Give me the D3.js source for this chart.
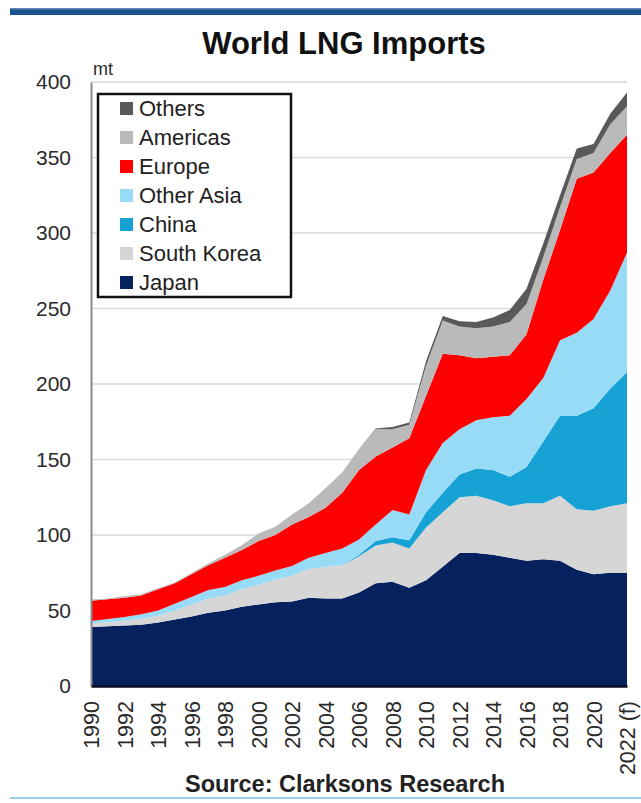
<!DOCTYPE html>
<html>
<head>
<meta charset="utf-8">
<script src="https://cdn.jsdelivr.net/npm/d3@7"></script>
<style>
  html, body { margin: 0; padding: 0; background: #ffffff; }
  svg { display: block; font-family: "Liberation Sans", Arial, sans-serif; }
</style>
</head>
<body>
<svg id="chart" width="641" height="803"></svg>
<script>
// World LNG imports by region, million tonnes
const years = d3.range(1990, 2023);

const japan      = [39, 39.5, 40, 40.5, 42, 44, 46, 48.5, 50, 52.5, 54, 55.5, 56, 58.5, 58, 58, 62, 68, 69, 65, 70, 79, 88, 88, 87, 85, 83, 84, 83, 77, 74, 75, 75];
const southKorea = [2.5, 2.8, 3.2, 4, 4.5, 6, 8, 9.5, 10, 11.5, 13, 15, 17, 19, 21, 22, 24, 25, 26, 26, 35, 36, 37, 38, 36, 34, 38, 37, 43, 40, 42, 44, 46];
const china      = [0, 0, 0, 0, 0, 0, 0, 0, 0, 0, 0, 0, 0, 0, 0, 0, 1, 3, 3.5, 5.5, 10, 13, 15, 18, 20, 19.5, 24, 41, 53, 62, 68, 78, 87];
const otherAsia  = [1.5, 2, 2.5, 3, 3.5, 4.5, 5, 5.5, 5.5, 6, 6, 6, 6.5, 7.5, 9, 11, 10, 11, 18, 17, 28, 33, 30, 32, 35, 40.5, 45, 42, 50, 55, 59, 65, 79];
const europe     = [13.5, 13.2, 12.8, 12.5, 14, 13.5, 15, 16.5, 19.5, 20, 23, 23.5, 27.5, 27, 30, 37, 46, 45, 41.5, 50.5, 49, 59, 49, 41, 40, 40, 43, 65, 73, 102, 97, 91, 78];
const americas   = [0.8, 0.5, 1, 0.7, 0.8, 0.5, 0.8, 1.2, 2, 3.2, 5, 5.5, 6.5, 9, 13, 13.5, 14, 18, 12, 9, 20, 22, 19, 20, 20, 22, 20, 15, 15, 13, 13, 19, 19];
const others     = [0, 0, 0, 0, 0, 0, 0, 0, 0, 0, 0, 0, 0, 0, 0, 0, 0, 0.5, 1.5, 1.5, 3, 3, 3.5, 4, 6, 8, 10, 9, 8, 7, 6, 7, 9];

const seriesNames  = ["Japan", "South Korea", "China", "Other Asia", "Europe", "Americas", "Others"];
const seriesValues = [japan, southKorea, china, otherAsia, europe, americas, others];
const seriesColors = ["#05225f", "#d6d6d6", "#17a2d6", "#97dbf6", "#ff0000", "#bababa", "#595959"];

const yTickValues = [0, 50, 100, 150, 200, 250, 300, 350, 400];
const xTickYears  = d3.range(1990, 2023, 2);
const xTickLabels = xTickYears.map(y => y === 2022 ? "2022 (f)" : String(y));

const titleText  = "World LNG Imports";
const unitText   = "mt";
const sourceText = "Source: Clarksons Research";

// Rows for the stack layout
const rows = years.map((yr, i) => {
  const r = { year: yr };
  seriesNames.forEach((n, k) => { r[n] = seriesValues[k][i]; });
  return r;
});

const svg = d3.select("#chart");

const x = d3.scaleLinear().domain([1990, 2022]).range([91, 627]);
const y = d3.scaleLinear().domain([0, 400]).range([686, 82]);
const color = d3.scaleOrdinal().domain(seriesNames).range(seriesColors);

// Header rule
svg.append("rect").attr("x", 10).attr("y", 8).attr("width", 631).attr("height", 7).attr("fill", "#1c4f8d");
svg.append("rect").attr("x", 10).attr("y", 8).attr("width", 631).attr("height", 1.5).attr("fill", "#5f86b5");

// Title
svg.append("text")
  .attr("x", 344).attr("y", 54)
  .attr("text-anchor", "middle")
  .attr("font-size", 31).attr("font-weight", "bold").attr("fill", "#111")
  .text(titleText);

// Horizontal gridlines
svg.append("g")
  .selectAll("line")
  .data(yTickValues.filter(v => v > 0))
  .join("line")
  .attr("x1", x(1990)).attr("x2", x(2022))
  .attr("y1", d => y(d)).attr("y2", d => y(d))
  .attr("stroke", "#d9d9d9").attr("stroke-width", 1.5);

// Stacked areas
const stack = d3.stack().keys(seriesNames);
const layers = stack(rows);

const area = d3.area()
  .x(d => x(d.data.year))
  .y0(d => y(d[0]))
  .y1(d => y(d[1]));

svg.append("g")
  .selectAll("path")
  .data(layers)
  .join("path")
  .attr("d", area)
  .attr("fill", d => color(d.key));

// Axes
const yAxis = d3.axisLeft(y).tickValues(yTickValues).tickSize(0).tickPadding(20);
const gy = svg.append("g").attr("transform", `translate(${x(1990)},0)`).call(yAxis);
gy.select(".domain").attr("stroke", "#8a8a8a").attr("stroke-width", 2);
gy.selectAll("text").attr("font-size", 21).attr("fill", "#2a2a2a")
  .attr("font-family", "'Liberation Sans', Arial, sans-serif");

const xAxis = d3.axisBottom(x).tickValues(xTickYears).tickSize(0)
  .tickFormat((d, i) => xTickLabels[i]);
const gx = svg.append("g").attr("transform", `translate(0,${y(0)})`).call(xAxis);
gx.select(".domain").attr("stroke", "#0a0f24").attr("stroke-width", 2.5);
gx.selectAll("text")
  .attr("font-size", 21.5).attr("fill", "#2a2a2a")
  .attr("font-family", "'Liberation Sans', Arial, sans-serif")
  .attr("text-anchor", "end")
  .attr("transform", "rotate(-90)")
  .attr("x", -15).attr("y", 0).attr("dy", "0.36em");

// Unit label
svg.append("text")
  .attr("x", 93).attr("y", 75)
  .attr("font-size", 18).attr("fill", "#2a2a2a")
  .text(unitText);

// Legend
const legendOrder = seriesNames.slice().reverse();
const lg = svg.append("g");
lg.append("rect")
  .attr("x", 98).attr("y", 94).attr("width", 193).attr("height", 203)
  .attr("fill", "#ffffff").attr("stroke", "#111").attr("stroke-width", 2.5);
const items = lg.selectAll("g.item")
  .data(legendOrder)
  .join("g").attr("class", "item")
  .attr("transform", (d, i) => `translate(120,${108 + i * 29})`);
items.append("rect")
  .attr("x", 0).attr("y", -6).attr("width", 13).attr("height", 13)
  .attr("fill", d => color(d));
items.append("text")
  .attr("x", 19).attr("y", 0).attr("dy", "0.36em")
  .attr("font-size", 22).attr("fill", "#222")
  .text(d => d);

// Source note
svg.append("text")
  .attr("x", 345).attr("y", 792)
  .attr("text-anchor", "middle")
  .attr("font-size", 23.5).attr("font-weight", "bold").attr("fill", "#222")
  .text(sourceText);

// Footer rule
svg.append("rect").attr("x", 10).attr("y", 797).attr("width", 631).attr("height", 2).attr("fill", "#9fcdee");
</script>
</body>
</html>
